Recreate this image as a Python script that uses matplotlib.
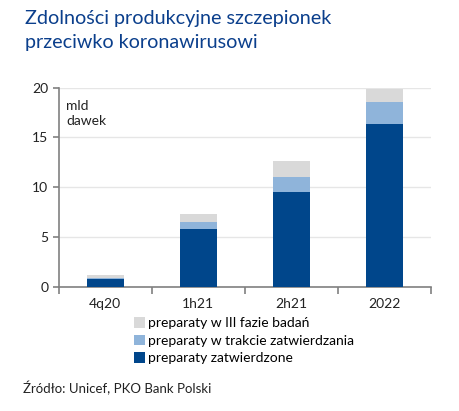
import matplotlib.pyplot as plt
import numpy as np

categories = ["4q20", "1h21", "2h21", "2022"]
zatwierdzone = [0.85, 5.85, 9.5, 16.3]
w_trakcie = [0.1, 0.7, 1.5, 2.3]
faza_iii = [0.3, 0.75, 1.65, 1.25]

labels = ["preparaty zatwierdzone", "preparaty w trakcie zatwierdzania", "preparaty w III fazie badań"]
colors = ["#00468b", "#8fb4da", "#d9d9d9"]

plt.rcParams['font.family'] = ['Lato', 'DejaVu Sans']
fig = plt.figure(figsize=(4.59, 4.11), dpi=100)
ax = fig.add_axes([0.128, 0.301, 0.811, 0.486])

x = np.arange(len(categories))
w = 0.4
b1 = ax.bar(x, zatwierdzone, w, color=colors[0], label=labels[0], zorder=3)
b2 = ax.bar(x, w_trakcie, w, bottom=zatwierdzone, color=colors[1], label=labels[1], zorder=3)
bottom3 = np.array(zatwierdzone) + np.array(w_trakcie)
b3 = ax.bar(x, faza_iii, w, bottom=bottom3, color=colors[2], label=labels[2], zorder=3)

ax.set_xlim(-0.5, 3.5)
ax.set_ylim(0, 20)
ax.set_yticks([0, 5, 10, 15, 20])
ax.set_xticks(x)
ax.set_xticklabels(categories)
ax.set_xticks(np.arange(-0.5, 4, 1), minor=True)
ax.tick_params(axis='x', which='major', length=0, pad=8, labelsize=10, colors='#222222')
ax.tick_params(axis='x', which='minor', length=5, width=1.2, color='#808080')
ax.tick_params(axis='y', length=4, width=1.2, color='#808080', labelsize=10, labelcolor='#222222')
ax.grid(axis='y', color='#e6e6e6', linewidth=1, zorder=0)
for s in ['top', 'right']:
    ax.spines[s].set_visible(False)
for s in ['left', 'bottom']:
    ax.spines[s].set_color('#808080')
    ax.spines[s].set_linewidth(1.2)

ax.text(0.02, 0.94, "mld\ndawek", transform=ax.transAxes, fontsize=10, va='top', ha='left', color='#222222', linespacing=1.3)

fig.text(0.055, 0.975, "Zdolności produkcyjne szczepionek\nprzeciwko koronawirusowi", fontsize=14.2,
         color='#0b3f8c', va='top', ha='left', linespacing=1.45)

handles = [b3, b2, b1]
fig.legend(handles, [labels[2], labels[1], labels[0]], loc='upper left', bbox_to_anchor=(0.293, 0.228),
           frameon=False, fontsize=10, handlelength=0.75, handleheight=0.75, handletextpad=0.25,
           labelspacing=0.4, borderpad=0, borderaxespad=0)

fig.text(0.05, 0.055, "Źródło: Unicef, PKO Bank Polski", fontsize=9.5, color='#222222', va='center')

fig.savefig("out.png", dpi=100)
